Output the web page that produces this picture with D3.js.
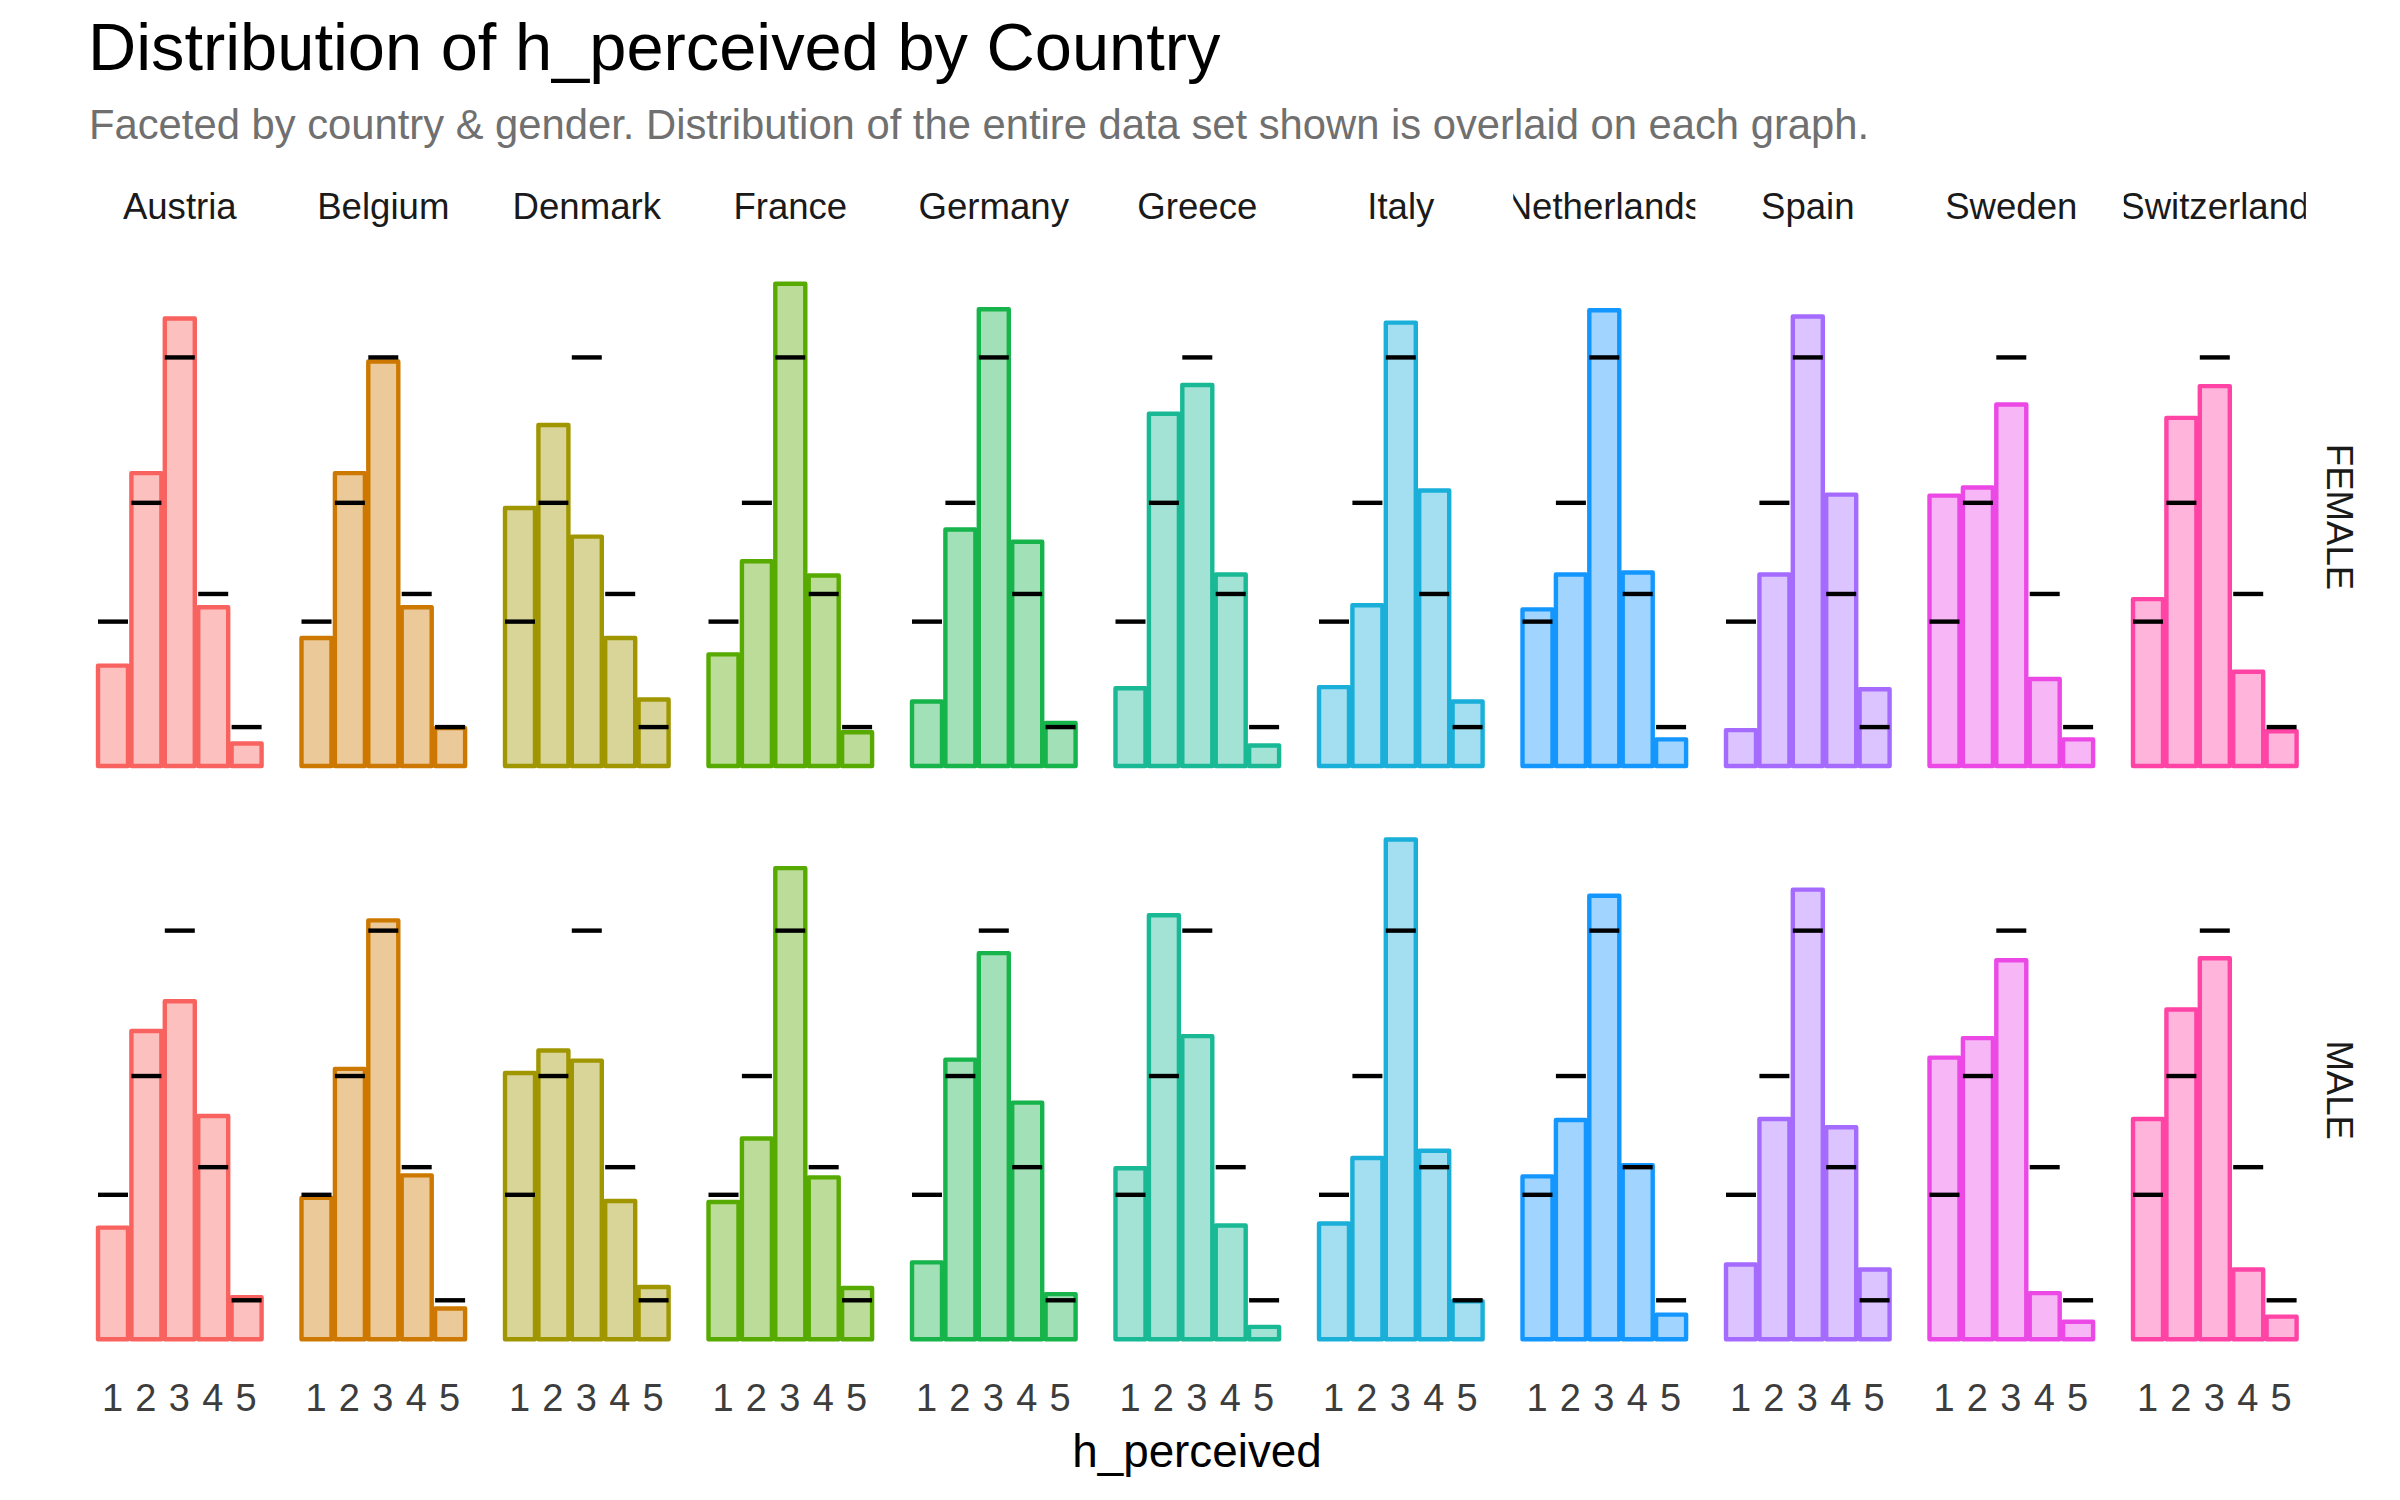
<!DOCTYPE html>
<html>
<head>
<meta charset="utf-8">
<title>Distribution of h_perceived by Country</title>
<script src="https://cdn.jsdelivr.net/npm/d3@7"></script>
<style>
    html, body { margin: 0; padding: 0; background: #fff; }
    svg { display: block; }
    text { font-family: "Liberation Sans", Arial, sans-serif; }
</style>
</head>
<body>
<svg id="chart"></svg>
<script>
const countries = ["Austria", "Belgium", "Denmark", "France", "Germany", "Greece", "Italy", "Netherlands", "Spain", "Sweden", "Switzerland"];
const genders = ["FEMALE", "MALE"];
const levels = [1, 2, 3, 4, 5];

// percent of respondents per h_perceived level, one row per country
const femaleShares = [
    [9.8, 28.6, 43.7, 15.5, 2.2],
    [12.5, 28.6, 39.5, 15.5, 3.7],
    [25.2, 33.3, 22.4, 12.5, 6.5],
    [10.9, 20.0, 47.1, 18.6, 3.3],
    [6.3, 23.1, 44.6, 21.9, 4.2],
    [7.6, 34.4, 37.2, 18.7, 2.0],
    [7.7, 15.7, 43.3, 26.9, 6.3],
    [15.3, 18.7, 44.5, 18.9, 2.6],
    [3.5, 18.7, 43.9, 26.5, 7.5],
    [26.4, 27.2, 35.3, 8.5, 2.6],
    [16.3, 34.0, 37.1, 9.2, 3.4],
];
const maleShares = [
    [10.9, 30.1, 33.0, 21.8, 4.1],
    [13.8, 26.4, 40.9, 16.0, 3.0],
    [26.0, 28.2, 27.2, 13.5, 5.1],
    [13.4, 19.6, 46.0, 15.8, 5.0],
    [7.5, 27.3, 37.7, 23.1, 4.4],
    [16.7, 41.4, 29.6, 11.1, 1.2],
    [11.3, 17.7, 48.8, 18.4, 3.7],
    [15.9, 21.4, 43.3, 17.0, 2.4],
    [7.3, 21.5, 43.9, 20.7, 6.8],
    [27.5, 29.4, 37.0, 4.5, 1.7],
    [21.5, 32.2, 37.2, 6.8, 2.2],
];
const overallShares = [14.1, 25.7, 39.9, 16.8, 3.8];
const countryColors = ["#F8625F", "#CD7800", "#A09600", "#57AA00", "#16B44B", "#19B996", "#19AFD9", "#1496FF", "#A56BFF", "#EC48E6", "#FF44A5"];

const width = 2400;
const height = 1500;
const panelStep = 203.5;
const rowStep = 573.2;
const firstBaseline = 766;
const barStep = 33.4;
const barWidth = 30;
const stripWidth = 182;

const svg = d3.select("#chart").attr("width", width).attr("height", height).attr("viewBox", `0 0 ${width} ${height}`);

const panelX = d3.scaleLinear().domain([0, countries.length - 1]).range([113 + 2 * barStep, 113 + 2 * barStep + panelStep * (countries.length - 1)]);
const rowY = d3.scaleLinear().domain([0, 1]).range([firstBaseline, firstBaseline + rowStep]);
const x = d3.scaleLinear().domain([1, 5]).range([-2 * barStep, 2 * barStep]);
const y = d3.scaleLinear().domain([0, 50]).range([0, -512]);

svg.append("text")
    .attr("x", 88)
    .attr("y", 70)
    .attr("font-size", 66.8)
    .attr("fill", "#000")
    .text("Distribution of h_perceived by Country");

svg.append("text")
    .attr("x", 89)
    .attr("y", 139)
    .attr("font-size", 41.75)
    .attr("fill", "#707070")
    .text("Faceted by country & gender. Distribution of the entire data set shown is overlaid on each graph.");

const defs = svg.append("defs");

countries.forEach((country, c) => {
    const cx = panelX(c);

    defs.append("clipPath")
        .attr("id", `strip-${c}`)
        .append("rect")
        .attr("x", cx - stripWidth / 2)
        .attr("y", 170)
        .attr("width", stripWidth)
        .attr("height", 70);

    svg.append("text")
        .attr("x", cx)
        .attr("y", 219)
        .attr("text-anchor", "middle")
        .attr("font-size", 36.6)
        .attr("fill", "#1a1a1a")
        .attr("clip-path", `url(#strip-${c})`)
        .text(country);

    [femaleShares, maleShares].forEach((shares, r) => {
        const g = svg.append("g").attr("transform", `translate(${cx}, ${rowY(r)})`);

        g.selectAll("rect.bar")
            .data(shares[c])
            .enter()
            .append("rect")
            .attr("class", "bar")
            .attr("x", (d, i) => x(levels[i]) - barWidth / 2)
            .attr("y", (d) => y(d))
            .attr("width", barWidth)
            .attr("height", (d) => -y(d))
            .attr("fill", countryColors[c])
            .attr("fill-opacity", 0.4)
            .attr("stroke", countryColors[c])
            .attr("stroke-width", 4.4)
            .attr("stroke-linejoin", "round");

        g.selectAll("line.overall")
            .data(overallShares)
            .enter()
            .append("line")
            .attr("class", "overall")
            .attr("x1", (d, i) => x(levels[i]) - barWidth / 2)
            .attr("x2", (d, i) => x(levels[i]) + barWidth / 2)
            .attr("y1", (d) => y(d))
            .attr("y2", (d) => y(d))
            .attr("stroke", "#000")
            .attr("stroke-width", 4.4);
    });

    const axis = svg.append("g")
        .attr("transform", `translate(${cx - 1}, ${rowY(1)})`)
        .call(d3.axisBottom(x).tickValues(levels).tickFormat(d3.format("d")).tickSize(0).tickPadding(45));
    axis.select(".domain").remove();
    axis.selectAll("text")
        .attr("font-size", 38)
        .attr("font-family", null)
        .attr("fill", "#3d3d3d");
});

genders.forEach((gender, r) => {
    svg.append("text")
        .attr("transform", `translate(2327, ${rowY(r) - 249}) rotate(90)`)
        .attr("text-anchor", "middle")
        .attr("font-size", 36.6)
        .attr("fill", "#1a1a1a")
        .text(gender);
});

svg.append("text")
    .attr("x", 1197)
    .attr("y", 1467)
    .attr("text-anchor", "middle")
    .attr("font-size", 45.8)
    .attr("fill", "#000")
    .text("h_perceived");
</script>
</body>
</html>
